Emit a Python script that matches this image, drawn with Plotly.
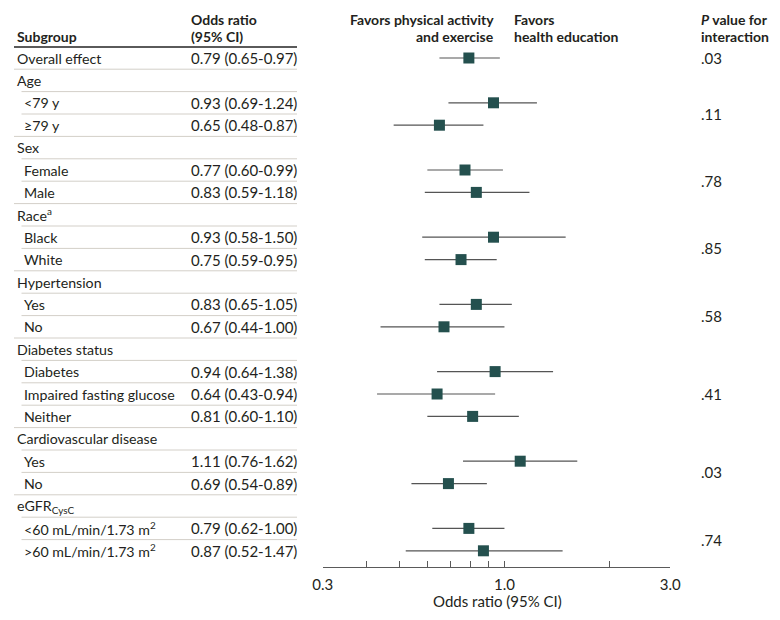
import math
import plotly.graph_objects as go

# ---------------- data ----------------
labels = ["Overall effect", "Age", "&lt;79 y", "≥79 y", "Sex", "Female", "Male",
          "Race<sup>a</sup>", "Black", "White", "Hypertension", "Yes", "No",
          "Diabetes status", "Diabetes", "Impaired fasting glucose", "Neither",
          "Cardiovascular disease", "Yes", "No", "eGFR<sub>CysC</sub>",
          "&lt;60 mL/min/1.73 m<sup>2</sup>", "&gt;60 mL/min/1.73 m<sup>2</sup>"]
is_sub = [0, 0, 1, 1, 0, 1, 1, 0, 1, 1, 0, 1, 1, 0, 1, 1, 1, 0, 1, 1, 0, 1, 1]
odds = [0.79, None, 0.93, 0.65, None, 0.77, 0.83, None, 0.93, 0.75, None, 0.83, 0.67,
        None, 0.94, 0.64, 0.81, None, 1.11, 0.69, None, 0.79, 0.87]
ci_low = [0.65, None, 0.69, 0.48, None, 0.60, 0.59, None, 0.58, 0.59, None, 0.65, 0.44,
          None, 0.64, 0.43, 0.60, None, 0.76, 0.54, None, 0.62, 0.52]
ci_high = [0.97, None, 1.24, 0.87, None, 0.99, 1.18, None, 1.50, 0.95, None, 1.05, 1.00,
           None, 1.38, 0.94, 1.10, None, 1.62, 0.89, None, 1.00, 1.47]
p_values = [".03", ".11", ".78", ".85", ".58", ".41", ".03", ".74"]
p_first_row = [0, 2, 5, 8, 11, 14, 18, 21]
p_last_row = [0, 3, 6, 9, 12, 16, 19, 22]
tick_vals = [0.3, 1.0, 3.0]
tick_text = ["0.3", "1.0", "3.0"]
minor_vals = [0.4, 0.5, 0.6, 0.7, 0.8, 0.9, 2.0]

# ---------------- styling ----------------
OFF = 8  # page body margin in the browser
W, H = 780 - OFF, 620 - OFF
FONT = "Lato, 'Liberation Sans', sans-serif"
TXT = "#231f20"
ROW0_PX, ROW_STEP = 58.0, 22.4
AXIS_PX = 566.7
Y_TOP = (ROW0_PX - OFF) / ROW_STEP
Y_BOT = Y_TOP - (AXIS_PX - OFF) / ROW_STEP

def px_x(p):
    return (p - OFF) / W

def px_y(p):
    return 1 - (p - OFF) / H

fig = go.Figure()

ys = [-i for i in range(len(labels))]
di = [i for i in range(len(labels)) if odds[i] is not None]
fig.add_trace(go.Scatter(
    x=[odds[i] for i in di], y=[ys[i] for i in di], mode="markers",
    marker=dict(symbol="square", size=11, color="#24504e", line=dict(width=0)),
    error_x=dict(type="data", symmetric=False,
                 array=[ci_high[i] - odds[i] for i in di],
                 arrayminus=[odds[i] - ci_low[i] for i in di],
                 width=0, thickness=1.2, color="#555555"),
    hoverinfo="skip", cliponaxis=False))

shapes = []
ann = []
# reference line at OR = 1
shapes.append(dict(type="line", xref="x", yref="paper", x0=math.log10(1.0), x1=math.log10(1.0),
                   y0=px_y(12), y1=px_y(AXIS_PX), line=dict(color="#8a8a8a", width=1.2, dash="dot")))
# header rule
shapes.append(dict(type="line", xref="paper", yref="paper", x0=px_x(14), x1=px_x(297),
                   y0=px_y(47), y1=px_y(47), line=dict(color="#5a5a5a", width=2)))
# row separators
for i in range(len(labels) - 1):
    x0 = 21.5 if is_sub[i + 1] else 14
    shapes.append(dict(type="line", xref="paper", yref="y", x0=px_x(x0), x1=px_x(297),
                       y0=ys[i] - 0.5, y1=ys[i] - 0.5, line=dict(color="#d3cfc8", width=1)))

# row text
for i, lab in enumerate(labels):
    ann.append(dict(x=px_x(21.5 if is_sub[i] else 15), y=ys[i], xref="paper", yref="y",
                    text=lab, showarrow=False, xanchor="left", yanchor="middle",
                    font=dict(size=14.2, color=TXT, family=FONT)))
    if odds[i] is not None:
        ann.append(dict(x=px_x(189), y=ys[i], xref="paper", yref="y",
                        text=f"{odds[i]:.2f} ({ci_low[i]:.2f}-{ci_high[i]:.2f})",
                        showarrow=False, xanchor="left", yanchor="middle",
                        font=dict(size=15, color=TXT, family=FONT)))
# p values
for pv, a, b in zip(p_values, p_first_row, p_last_row):
    ann.append(dict(x=px_x(699), y=(ys[a] + ys[b]) / 2, xref="paper", yref="y",
                    text=pv, showarrow=False, xanchor="left", yanchor="middle",
                    font=dict(size=15, color=TXT, family=FONT)))

# headers
def head(text, x, y, anchor):
    ann.append(dict(x=px_x(x), y=px_y(y), xref="paper", yref="paper", text=text,
                    showarrow=False, xanchor=anchor, yanchor="middle",
                    font=dict(size=14, color=TXT, family=FONT, weight="bold")))

head("Subgroup", 15, 36.5, "left")
head("Odds ratio", 189, 19, "left")
head("(95% CI)", 189, 36.5, "left")
head("Favors physical activity", 496, 19, "right")
head("and exercise", 496, 36.5, "right")
head("Favors", 511.5, 19, "left")
head("health education", 511.5, 36.5, "left")
head("<i>P</i> value for", 699, 19, "left")
head("interaction", 699, 36.5, "left")

ann.append(dict(x=px_x(497), y=px_y(601), xref="paper", yref="paper",
                text="Odds ratio (95% CI)", showarrow=False, xanchor="center", yanchor="middle",
                font=dict(size=15, color=TXT, family=FONT)))

fig.update_layout(
    width=W, height=H, margin=dict(l=0, r=0, t=0, b=0),
    paper_bgcolor="white", plot_bgcolor="white", showlegend=False,
    shapes=shapes, annotations=ann,
    xaxis=dict(type="log", range=[math.log10(0.3), math.log10(3.0)],
               domain=[px_x(322.7), px_x(670.3)], showgrid=False, zeroline=False,
               showline=True, linecolor="#5a5a5a", linewidth=1.2,
               ticks="inside", ticklen=6, tickwidth=1.2, tickcolor="#5a5a5a",
               tickvals=tick_vals, ticktext=tick_text, ticklabelstandoff=4,
               tickfont=dict(size=15, color=TXT, family=FONT),
               minor=dict(tickvals=minor_vals, ticks="inside", ticklen=6,
                          tickwidth=1.2, tickcolor="#5a5a5a"),
               automargin=False, fixedrange=True),
    yaxis=dict(range=[Y_BOT, Y_TOP], domain=[px_y(AXIS_PX), 1], visible=False,
               automargin=False, fixedrange=True),
)

fig.write_html("out.html")
